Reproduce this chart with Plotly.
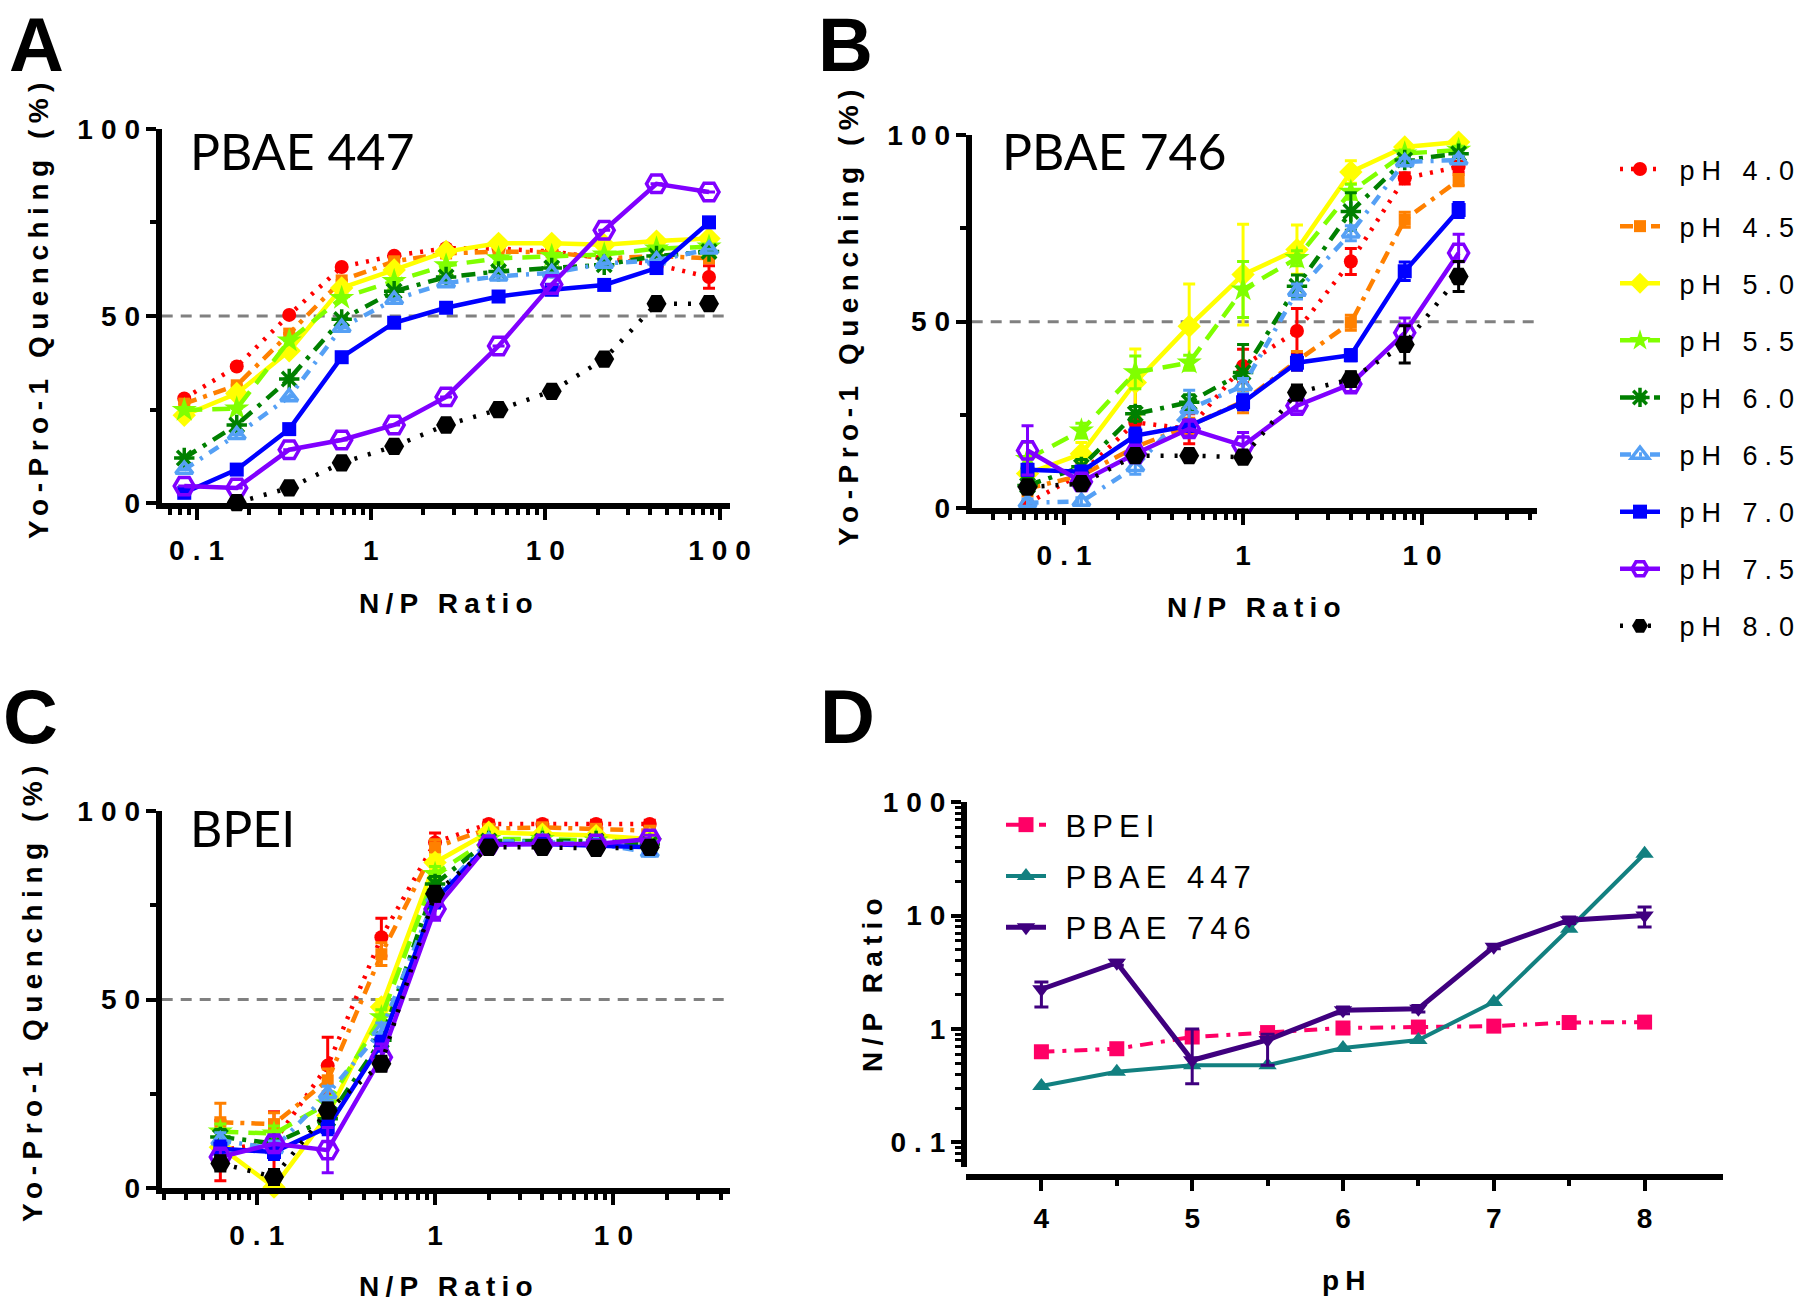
import plotly.graph_objects as go

W, H = 1800, 1304

# ---- data ----
ph_names = ['pH 4.0', 'pH 4.5', 'pH 5.0', 'pH 5.5', 'pH 6.0', 'pH 6.5', 'pH 7.0', 'pH 7.5', 'pH 8.0']

np_447 = [0.085, 0.17, 0.34, 0.68, 1.36, 2.7, 5.4, 10.9, 21.8, 43.5, 87]
np_746 = [0.0625, 0.125, 0.25, 0.5, 1, 2, 4, 8, 16]
np_bpei = [0.0625, 0.125, 0.25, 0.5, 1, 2, 4, 8, 16]

q_447 = [
    [28.0, 36.5, 50.3, 63.1, 66.1, 68.1, 68.0, 67.2, 65.4, 63.7, 60.4],
    [26.6, 31.5, 45.3, 59.5, 64.6, 66.7, 67.2, 67.0, 65.4, 66.0, 65.4],
    [23.5, 29.3, 40.7, 57.5, 62.3, 67.2, 69.4, 69.4, 69.0, 70.0, 70.7],
    [24.9, 25.3, 43.4, 54.8, 59.3, 63.5, 65.4, 66.0, 66.4, 68.0, 68.5],
    [12.1, 20.9, 33.2, 49.1, 56.6, 60.4, 61.9, 62.8, 63.7, 66.0, 67.2],
    [9.0, 18.3, 28.4, 46.9, 54.4, 58.8, 60.6, 61.5, 64.0, 64.9, 67.8],
    [2.8, 9.0, 19.8, 39.0, 48.2, 52.2, 55.2, 57.0, 58.3, 62.8, 75.0],
    [4.6, 4.1, 14.3, 16.9, 20.9, 28.4, 42.0, 58.4, 72.9, 85.3, 83.1],
    [None, 0.2, 4.1, 10.8, 15.2, 20.9, 25.0, 29.9, 38.5, 53.3, 53.3],
]
e_447 = [
    [0, 0, 0, 0, 0, 0, 0, 0, 0, 0, 3.0],
] + [[0] * 11 for _ in range(8)]

q_746 = [
    [1.3, 9.3, 23.0, 21.3, 38.1, 47.5, 66.1, 88.4, 91.5],
    [5.3, 8.8, 16.4, 22.1, 28.6, 39.5, 49.7, 77.3, 87.9],
    [9.3, 14.6, 33.7, 48.8, 62.6, 69.3, 90.1, 96.8, 98.1],
    [13.2, 20.8, 36.4, 39.0, 58.6, 67.0, 84.8, 95.0, 96.0],
    [6.1, 11.1, 25.3, 28.4, 36.4, 59.5, 79.5, 93.3, 95.0],
    [1.5, 1.8, 11.1, 26.6, 32.8, 58.1, 73.7, 92.8, 93.3],
    [10.3, 9.8, 19.5, 22.1, 28.4, 39.0, 41.0, 63.5, 79.9],
    [15.5, 7.1, 14.6, 21.3, 16.8, 27.5, 33.3, 47.0, 68.4],
    [5.7, 6.6, 14.1, 14.1, 13.7, 31.0, 34.6, 43.9, 62.1],
]
e_746 = [
    [6, 3, 9.8, 4, 4.5, 6, 3.5, 1.5, 1.5],
    [2, 2, 3, 2, 3, 2.5, 2, 2, 1.5],
    [2, 3, 9, 11.3, 13.5, 6.6, 3, 1, 1],
    [4.5, 2, 4.4, 2, 7.5, 2, 2, 1, 1],
    [2, 2, 2, 2, 7.5, 3, 5, 1, 1],
    [1, 1, 2, 5, 2, 2, 2, 1, 1],
    [1.5, 1.5, 2, 1.5, 2, 2, 1.5, 2.5, 2],
    [6.6, 2, 2, 2, 3.5, 1.5, 2, 4, 5],
    [1, 1, 1, 1, 1, 2, 2, 5, 4],
]

q_bpei = [
    [10.0, 12.3, 32.5, 66.5, 91.6, 96.5, 96.5, 96.5, 96.5],
    [17.5, 17.0, 28.6, 62.0, 90.3, 95.2, 95.6, 95.2, 94.7],
    [10.9, 0.3, 19.3, 48.0, 86.3, 94.3, 93.8, 93.4, 92.5],
    [15.0, 14.5, 22.4, 45.3, 83.2, 92.5, 92.5, 92.1, 91.7],
    [13.6, 11.9, 18.4, 39.2, 80.6, 92.0, 92.0, 92.0, 91.2],
    [12.7, 10.5, 25.0, 41.8, 77.1, 92.0, 91.7, 91.2, 89.0],
    [10.5, 9.6, 16.2, 38.3, 76.2, 91.2, 91.2, 90.8, 90.3],
    [8.3, 11.8, 10.1, 34.7, 74.0, 91.0, 91.2, 91.2, 92.5],
    [6.6, 3.0, 20.6, 33.0, 78.0, 90.3, 90.3, 90.0, 90.3],
]
e_bpei = [
    [8, 8, 7.5, 5, 2.5, 1, 1, 1, 1],
    [5, 3, 3, 3, 2, 1, 1, 1, 1],
    [2, 2, 2, 2, 2, 1, 1, 1, 1],
    [2, 2, 2, 2, 2, 1, 1, 1, 1],
    [2, 2, 2, 2, 2, 1, 1, 1, 1],
    [2, 2, 2, 2, 2, 1, 1, 1, 1],
    [2, 2, 2, 2, 2, 1, 1, 1, 1],
    [2, 2, 6, 3.5, 3, 1, 1, 1, 1],
    [2, 2, 2, 2, 2, 1, 1, 1, 1],
]

ph_d = [4, 4.5, 5, 5.5, 6, 6.5, 7, 7.5, 8]
np50_bpei = [0.63, 0.67, 0.85, 0.93, 1.02, 1.04, 1.06, 1.14, 1.15]
np50_447 = [0.315, 0.42, 0.48, 0.48, 0.68, 0.8, 1.73, 7.65, 35]
np50_746 = [2.24, 3.84, 0.53, 0.8, 1.46, 1.51, 5.3, 9.1, 10.0]
np50_746_up = [0.36, 0.2, 0.47, 0.1, 0.1, 0.1, 0.2, 0.6, 1.9]
np50_746_dn = [0.68, 0.2, 0.2, 0.32, 0.1, 0.1, 0.2, 0.6, 2.1]

# ---- styles ----
ph_colors = ['#FF0000', '#FF8000', '#FFFF00', '#80FF00', '#008000', '#55A0F5', '#0000FF', '#8000FF', '#000000']
ph_dash = ['3px,8px', '13px,7px,4px,7px', 'solid', '18px,10px', '14px,8px,4px,8px',
           '11px,8px,3px,8px', 'solid', 'solid', '3px,11px']
ph_symbol = ['circle', 'square', 'diamond', 'star', 'asterisk-open', 'triangle-up-open',
             'square', 'hexagon2-open', 'hexagon2']
ph_size = [14, 12, 18, 19, 17, 15, 14, 20, 20]

FONT = 'Liberation Sans'
NB = '\u00a0'


def sp(txt, ls):
    # letter-spaced text, no extra space after the last character
    return f'<span style="letter-spacing:{ls}px">{txt[:-1]}</span>{txt[-1]}'


fig = go.Figure()


def add_panel(xs, ys, errs, xa, ya, show):
    for i in range(9):
        mline = 3.5 if 'open' in ph_symbol[i] else 0
        fig.add_trace(go.Scatter(
            x=xs, y=ys[i], xaxis=xa, yaxis=ya,
            mode='lines+markers', name=sp(NB + ph_names[i], 7),
            legendgroup=ph_names[i], showlegend=show,
            line=dict(color=ph_colors[i], width=4.5, dash=ph_dash[i]),
            marker=dict(symbol=ph_symbol[i], size=ph_size[i], color=ph_colors[i],
                        line=dict(color=ph_colors[i], width=mline)),
            error_y=dict(type='data', array=errs[i], color=ph_colors[i], thickness=3, width=6),
            cliponaxis=False,
        ))


add_panel(np_447, q_447, e_447, 'x', 'y', True)
add_panel(np_746, q_746, e_746, 'x2', 'y2', False)
add_panel(np_bpei, q_bpei, e_bpei, 'x3', 'y3', False)

fig.add_trace(go.Scatter(
    x=ph_d, y=np50_bpei, xaxis='x4', yaxis='y4', mode='lines+markers',
    name=sp(NB + 'BPEI', 6), legend='legend2', legendgroup='bpei',
    line=dict(color='#FF0066', width=4, dash='13px,8px,4px,8px'),
    marker=dict(symbol='square', size=15, color='#FF0066'), cliponaxis=False))
fig.add_trace(go.Scatter(
    x=ph_d, y=np50_447, xaxis='x4', yaxis='y4', mode='lines+markers',
    name=sp(NB + 'PBAE 447', 6), legend='legend2', legendgroup='p447',
    line=dict(color='#128080', width=4),
    marker=dict(symbol='triangle-up', size=16, color='#128080'), cliponaxis=False))
fig.add_trace(go.Scatter(
    x=ph_d, y=np50_746, xaxis='x4', yaxis='y4', mode='lines+markers',
    name=sp(NB + 'PBAE 746', 6), legend='legend2', legendgroup='p746',
    line=dict(color='#3F007F', width=5),
    marker=dict(symbol='triangle-down', size=16, color='#3F007F'),
    error_y=dict(type='data', array=np50_746_up, arrayminus=np50_746_dn,
                 color='#3F007F', thickness=3, width=7),
    cliponaxis=False))

# ---- axes ----
tickfont = dict(family=FONT, size=28, color='black', weight='bold')
minor_log = [m * 10 ** e for e in range(-2, 3) for m in range(2, 10)]
LW = 6


def log_x(dom, rng, vals, texts):
    return dict(type='log', domain=dom, range=rng, showline=True, linewidth=LW, linecolor='black',
                ticks='outside', ticklen=11, tickwidth=4, tickcolor='black',
                tickmode='array', tickvals=vals, ticktext=[sp(t, 8) for t in texts],
                tickfont=tickfont, ticklabelstandoff=6, showgrid=False, zeroline=False,
                minor=dict(ticks='outside', ticklen=6, tickwidth=4, tickcolor='black',
                           tickmode='array', tickvals=minor_log, showgrid=False))


def pct_y(dom):
    return dict(domain=dom, range=[0, 100], showline=True, linewidth=LW, linecolor='black',
                ticks='outside', ticklen=10, tickwidth=4, tickcolor='black',
                tickmode='array', tickvals=[0, 50, 100], ticktext=[sp(t, 8) for t in ['0', '50', '100']],
                tickfont=tickfont, showgrid=False, zeroline=False,
                minor=dict(ticks='outside', ticklen=6, tickwidth=4, tickcolor='black',
                           tickvals=[25, 75], showgrid=False))


fig.update_layout(
    xaxis=dict(log_x([161.7 / W, 730 / W], [-1.2, 2.06], [0.1, 1, 10, 100], ['0.1', '1', '10', '100']), anchor='y'),
    yaxis=dict(pct_y([1 - 503.3 / H, 1 - 128.7 / H]), anchor='x'),
    xaxis2=dict(log_x([971.7 / W, 1537 / W], [-1.516, 1.642], [0.1, 1, 10], ['0.1', '1', '10']), anchor='y2'),
    yaxis2=dict(pct_y([1 - 508.3 / H, 1 - 135 / H]), anchor='x2'),
    xaxis3=dict(log_x([161.7 / W, 730 / W], [-1.533, 1.654], [0.1, 1, 10], ['0.1', '1', '10']), anchor='y3'),
    yaxis3=dict(pct_y([1 - 1188.3 / H, 1 - 810.7 / H]), anchor='x3'),
    xaxis4=dict(domain=[966 / W, 1723 / W], range=[3.5, 8.52], anchor='free', position=1 - 1176.7 / H,
                showline=True, linewidth=LW, linecolor='black', ticks='outside', ticklen=11,
                tickwidth=4, tickcolor='black', tickmode='array', tickvals=[4, 5, 6, 7, 8],
                tickfont=tickfont, ticklabelstandoff=4, showgrid=False, zeroline=False,
                minor=dict(ticks='outside', ticklen=6, tickwidth=4, tickcolor='black',
                           tickvals=[4.5, 5.5, 6.5, 7.5], showgrid=False)),
    yaxis4=dict(type='log', domain=[1 - 1167 / H, 1 - 802 / H], range=[-1.216, 2], anchor='free',
                position=964 / W, showline=True, linewidth=LW, linecolor='black', ticks='outside',
                ticklen=10, tickwidth=4, tickcolor='black', tickmode='array',
                tickvals=[0.1, 1, 10, 100], ticktext=[sp(t, 8) for t in ['0.1', '1', '10', '100']],
                tickfont=tickfont, showgrid=False, zeroline=False,
                minor=dict(ticks='outside', ticklen=6, tickwidth=3, tickcolor='black',
                           tickvals=minor_log, showgrid=False)),
    width=W, height=H, margin=dict(l=0, r=0, t=0, b=0, autoexpand=False),
    plot_bgcolor='white', paper_bgcolor='white',
    font=dict(family=FONT, color='black'),
    legend=dict(x=1615 / W, y=1 - 145 / H, xanchor='left', yanchor='top',
                font=dict(family=FONT, size=27, color='black'), itemwidth=40,
                traceorder='grouped', tracegroupgap=19, bgcolor='rgba(0,0,0,0)'),
    legend2=dict(x=1001 / W, y=1 - 798 / H, xanchor='left', yanchor='top',
                 font=dict(family=FONT, size=31, color='black'), itemwidth=40,
                 traceorder='grouped', tracegroupgap=8, bgcolor='rgba(0,0,0,0)'),
    showlegend=True,
)

# dashed 50% reference lines
for xa, ya in [('x', 'y'), ('x2', 'y2'), ('x3', 'y3')]:
    fig.add_shape(type='line', xref=f'{xa} domain', yref=ya, x0=0, x1=1, y0=50, y1=50,
                  line=dict(color='#808080', width=3, dash='11px,8px'), layer='below')

# ---- text ----
title_font = dict(family=FONT, size=28, color='black', weight='bold')
big = dict(family=FONT, size=76, color='black', weight='bold')
ann = [
    ('A', 36, 45, 0, big),
    ('B', 845, 45, 0, big),
    ('C', 30, 716, 0, big),
    ('D', 847, 716, 0, big),
    (sp('Yo-Pro-1 Quenching (%)', 6.5), 38, 311, -90, title_font),
    (sp('Yo-Pro-1 Quenching (%)', 6.5), 848, 318, -90, title_font),
    (sp('Yo-Pro-1 Quenching (%)', 6.5), 32, 994, -90, title_font),
    (sp('N/P Ratio', 6.2), 872, 985, -90, title_font),
    (sp('N/P Ratio', 6.2), 446, 603, 0, title_font),
    (sp('N/P Ratio', 6.2), 1254, 607, 0, title_font),
    (sp('N/P Ratio', 6.2), 446, 1286, 0, title_font),
    (sp('pH', 6.2), 1344, 1280, 0, title_font),
]
for txt, px, py, ang, f in ann:
    fig.add_annotation(text=txt, x=px / W, y=1 - py / H, xref='paper', yref='paper',
                       showarrow=False, textangle=ang, font=f, xanchor='center', yanchor='middle')

inner_font = dict(family='Lato', size=50, color='black')
for txt, px, py in [('PBAE 447', 188, 151), ('PBAE 746', 1000, 151), ('BPEI', 188, 828)]:
    fig.add_annotation(text=txt, x=px / W, y=1 - py / H, xref='paper', yref='paper',
                       showarrow=False, font=inner_font, xanchor='left', yanchor='middle')

fig.write_html('out.html', config={'displayModeBar': False},
               post_script="document.body.style.margin='0px';")
